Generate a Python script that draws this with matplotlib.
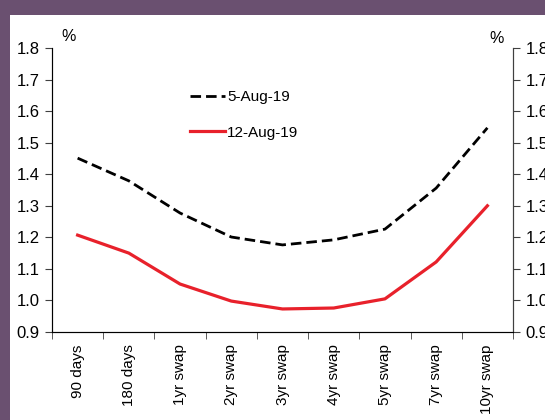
import numpy as np
import matplotlib.pyplot as plt
from matplotlib.patches import Rectangle

# данные кривой доходности
tenors = ['90 days', '180 days', '1yr swap', '2yr swap', '3yr swap',
          '4yr swap', '5yr swap', '7yr swap', '10yr swap']
aug05 = [1.451, 1.379, 1.277, 1.201, 1.176, 1.192, 1.226, 1.356, 1.547]
aug12 = [1.207, 1.150, 1.052, 0.998, 0.973, 0.976, 1.005, 1.122, 1.300]
y_ticks = [0.9, 1.0, 1.1, 1.2, 1.3, 1.4, 1.5, 1.6, 1.7, 1.8]

plt.rcParams['font.family'] = ['Liberation Sans', 'DejaVu Sans']
purple = '#6a5070'
red = '#e8212b'
spine_col = '#404040'

fig = plt.figure(figsize=(5.45, 4.2), dpi=100)
fig.patches.append(Rectangle((0, 0), 10 / 545, 1, transform=fig.transFigure,
                             facecolor=purple, edgecolor='none', zorder=-1))
fig.patches.append(Rectangle((0, 1 - 15 / 420), 1, 15 / 420, transform=fig.transFigure,
                             facecolor=purple, edgecolor='none', zorder=-1))

ax = fig.add_axes([52 / 545, 88 / 420, 461 / 545, 284 / 420])
x = np.arange(len(tenors))

ax.plot(x, aug05, color='black', linewidth=2, dashes=(3.8, 1.8), label='5-Aug-19')
ax.plot(x, aug12, color=red, linewidth=2.3, label='12-Aug-19')

ax.set_xlim(-0.5, len(tenors) - 0.5)
ax.set_ylim(0.9, 1.8)
ax.set_yticks(y_ticks)
ax.set_yticklabels([f'{v:.1f}' for v in y_ticks], fontsize=12)
ax.set_xticks(x)
ax.set_xticklabels(tenors, rotation=90, fontsize=11)
ax.set_xticks(np.arange(len(tenors) + 1) - 0.5, minor=True)
ax.tick_params(axis='x', which='major', length=0, pad=9)
ax.tick_params(axis='x', which='minor', length=5, color=spine_col)
ax.tick_params(axis='y', length=5, color=spine_col, pad=4)

ax.spines['top'].set_visible(False)
for s in ['left', 'bottom', 'right']:
    ax.spines[s].set_color(spine_col)

ax2 = ax.twinx()
ax2.set_ylim(0.9, 1.8)
ax2.set_yticks(y_ticks)
ax2.set_yticklabels([f'{v:.1f}' for v in y_ticks], fontsize=12)
ax2.tick_params(axis='y', length=5, color=spine_col, pad=4)
ax2.spines['top'].set_visible(False)
ax2.spines['right'].set_color(spine_col)

ax.text(0.035, 1.013, '%', transform=ax.transAxes, fontsize=11.5, ha='center', va='bottom')
ax.text(0.965, 1.008, '%', transform=ax.transAxes, fontsize=11.5, ha='center', va='bottom')

ax.legend(loc='upper left', bbox_to_anchor=(0.27, 0.9), frameon=False, fontsize=11,
          handlelength=2.3, handletextpad=0.1, labelspacing=1.4)

fig.savefig('out.png', dpi=100)
